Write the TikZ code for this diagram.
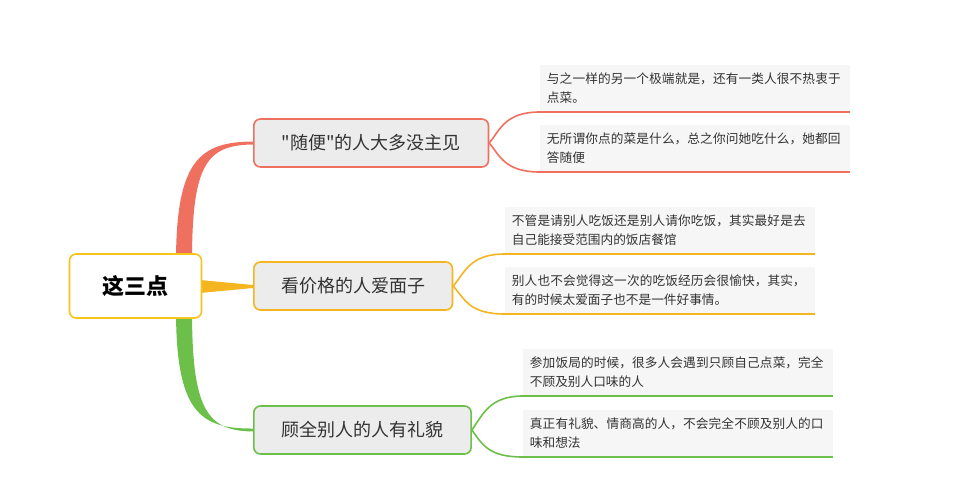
\documentclass[tikz,border=0pt]{standalone}
\usepackage{fontspec}
\newfontfamily\cjk{Noto Sans CJK SC}
\XeTeXlinebreaklocale "zh"
\XeTeXlinebreakskip = 0pt plus 1pt
\definecolor{cred}{HTML}{F07060}
\definecolor{cora}{HTML}{F5B520}
\definecolor{cgrn}{HTML}{6CC04A}
\definecolor{ctxt}{HTML}{333333}
\tikzset{
 root/.style={draw=cora!80!yellow,line width=1.2pt,fill=white,rounded corners=5pt,minimum width=99pt,minimum height=48pt,font=\cjk\fontsize{16.5}{18}\selectfont\bfseries,text=black},
 br/.style={line width=1.2pt,fill=gray!15,rounded corners=5pt,minimum height=36pt,font=\cjk\fontsize{13.5}{16}\selectfont,text=ctxt,anchor=west},
 leaf/.style={fill=gray!7,anchor=south west,minimum width=232pt,minimum height=35pt,text width=222pt,align=left,font=\cjk\fontsize{9.5}{14}\selectfont,text=ctxt,inner sep=5pt}
}
\begin{document}
\begin{tikzpicture}[x=0.75pt,y=-0.75pt]
\useasboundingbox (0,0) rectangle (967,503);
% tapered branches
\fill[cred] (176,262) .. controls (176,160) and (200,142) .. (253,141.5) -- (253,144.5) .. controls (206,145) and (192,165) .. (192,262) -- cycle;
\fill[cora] (200,280) -- (253,285) -- (253,288) -- (200,293) -- cycle;
\fill[cgrn] (176,310) .. controls (176,412) and (200,429) .. (253,428.5) -- (253,431.5) .. controls (206,431) and (192,408) .. (192,310) -- cycle;
\node[root] (r) at (135.5,286) {这三点};
\node[br,draw=cred,minimum width=176pt] (b1) at (253,143) {"随便"的人大多没主见};
\node[br,draw=cora,minimum width=149pt] (b2) at (253,286) {看价格的人爱面子};
\node[br,draw=cgrn,minimum width=163pt] (b3) at (253,430) {顾全别人的人有礼貌};
% leaves
\node[leaf] (l11) at (540,112) {与之一样的另一个极端就是，还有一类人很不热衷于点菜。};
\node[leaf] (l12) at (540,172) {无所谓你点的菜是什么，总之你问她吃什么，她都回答随便};
\node[leaf] (l21) at (505,254) {不管是请别人吃饭还是别人请你吃饭，其实最好是去自己能接受范围内的饭店餐馆};
\node[leaf] (l22) at (505,314) {别人也不会觉得这一次的吃饭经历会很愉快，其实，有的时候太爱面子也不是一件好事情。};
\node[leaf] (l31) at (523,396) {参加饭局的时候，很多人会遇到只顾自己点菜，完全不顾及别人口味的人};
\node[leaf] (l32) at (523,457) {真正有礼貌、情商高的人，不会完全不顾及别人的口味和想法};
% brackets
\draw[cred,line width=1.2pt] (l11.south east) -- (l11.south west) .. controls (505,112) and (500,130) .. (b1.east) .. controls (500,156) and (505,172) .. (l12.south west) -- (l12.south east);
\draw[cora,line width=1.2pt] (l21.south east) -- (l21.south west) .. controls (470,254) and (465,272) .. (b2.east) .. controls (465,300) and (470,314) .. (l22.south west) -- (l22.south east);
\draw[cgrn,line width=1.2pt] (l31.south east) -- (l31.south west) .. controls (490,396) and (483,414) .. (b3.east) .. controls (483,446) and (490,457) .. (l32.south west) -- (l32.south east);
\end{tikzpicture}
\end{document}
